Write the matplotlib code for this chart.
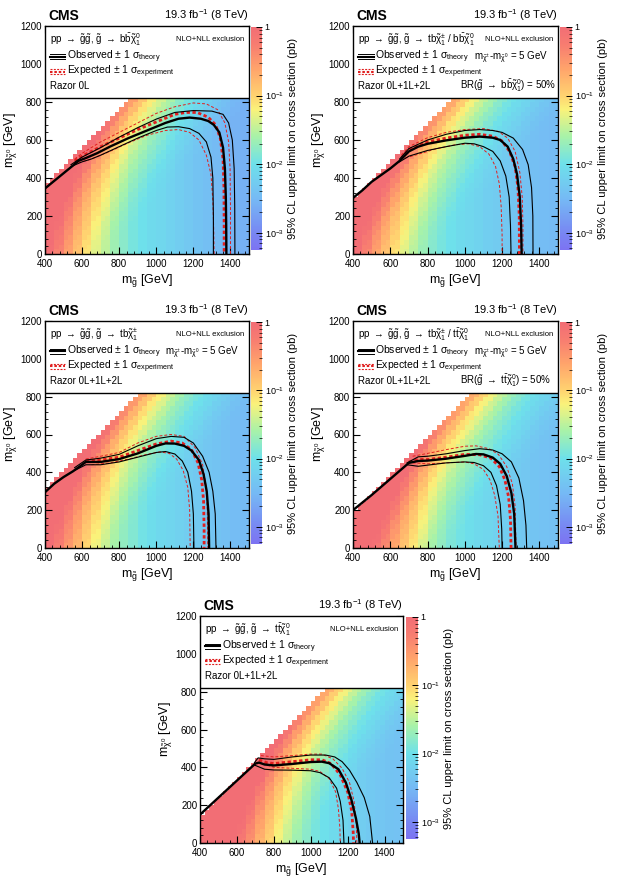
import numpy as np
import matplotlib
matplotlib.use('Agg')
import matplotlib.pyplot as plt
from matplotlib.colors import LinearSegmentedColormap, LogNorm
from matplotlib.patches import Rectangle
from matplotlib.ticker import MultipleLocator

plt.rcParams['font.family'] = ['Liberation Sans', 'DejaVu Sans']
plt.rcParams['mathtext.fontset'] = 'custom'
plt.rcParams['mathtext.rm'] = 'Liberation Sans'
plt.rcParams['mathtext.it'] = 'Liberation Sans'
plt.rcParams['mathtext.bf'] = 'Liberation Sans:bold'

# ---- data ----
mg_steps = [400, 450, 500, 550, 600, 650, 700, 750, 800, 850, 900,
            950, 1000, 1050, 1100, 1150, 1200, 1250, 1300, 1350, 1400, 1450]

# upper limit (pb) at low neutralino mass, one value per 50 GeV of gluino mass
limit_bb = [0.45, 0.3, 0.18, 0.11, 0.07, 0.045, 0.032, 0.022, 0.016, 0.012, 0.01,
            0.0085, 0.0075, 0.0065, 0.0055, 0.0048, 0.0042, 0.0037, 0.0033, 0.003, 0.0027, 0.0025]
limit_tbbb = [0.35, 0.22, 0.14, 0.09, 0.06, 0.04, 0.028, 0.02, 0.015, 0.012, 0.01,
              0.0085, 0.0075, 0.0066, 0.0058, 0.0052, 0.0047, 0.0043, 0.004, 0.0037, 0.0035, 0.0033]
limit_tb = [0.4, 0.28, 0.18, 0.12, 0.075, 0.05, 0.035, 0.025, 0.018, 0.014, 0.011,
            0.0092, 0.008, 0.007, 0.0062, 0.0055, 0.005, 0.0045, 0.0041, 0.0038, 0.0035, 0.0033]
limit_tbtt = [0.5, 0.4, 0.3, 0.2, 0.13, 0.085, 0.055, 0.035, 0.023, 0.017, 0.013,
              0.011, 0.0095, 0.0082, 0.0072, 0.0064, 0.0057, 0.0051, 0.0047, 0.0043, 0.004, 0.0038]
limit_tt = [0.7, 0.6, 0.5, 0.4, 0.3, 0.2, 0.12, 0.075, 0.048, 0.032, 0.022,
            0.016, 0.012, 0.01, 0.0085, 0.0072, 0.0062, 0.0055, 0.005, 0.0046, 0.0042, 0.004]

# limit grows close to the kinematic edge (per 50 GeV away from it)
diag_boost = [22, 13, 8, 5.5, 4.0, 3.0, 2.4, 2.0, 1.7, 1.45, 1.25, 1.12, 1.04, 1.0]
diag_gaps = [40, 110, 95, 210, 255]

# exclusion contours (m_gluino, m_LSP)
bb_obs = [(400, 345), (450, 385), (500, 425), (550, 465), (580, 490), (620, 505), (680, 530), (750, 565),
          (850, 610), (950, 650), (1050, 690), (1120, 712), (1180, 718), (1240, 712), (1280, 700),
          (1310, 680), (1340, 640), (1360, 560), (1370, 450), (1375, 300), (1377, 150), (1378, 0)]
bb_obs_up = [(540, 470), (600, 510), (700, 560), (800, 615), (900, 665), (1000, 710), (1100, 745), (1200, 755),
             (1300, 752), (1360, 735), (1390, 690), (1410, 600), (1420, 450), (1423, 250), (1424, 0)]
bb_obs_dn = [(540, 460), (600, 485), (650, 500), (700, 520), (800, 565), (900, 610), (1000, 650), (1060, 668),
             (1120, 670), (1180, 660), (1230, 635), (1270, 590), (1295, 510), (1305, 400), (1308, 200), (1308, 0)]
bb_exp = [(560, 490), (600, 515), (700, 565), (800, 610), (900, 655), (1000, 695), (1100, 735), (1160, 745),
          (1220, 745), (1280, 720), (1320, 680), (1345, 610), (1360, 500), (1365, 350), (1366, 150), (1366, 0)]
bb_exp_up = [(560, 500), (600, 530), (700, 590), (800, 640), (900, 690), (1000, 740), (1100, 775), (1200, 795),
             (1270, 790), (1330, 760), (1370, 690), (1390, 590), (1398, 450), (1400, 250), (1400, 0)]
bb_exp_dn = [(580, 480), (650, 500), (750, 540), (850, 585), (950, 625), (1050, 650), (1120, 655), (1180, 640),
             (1230, 600), (1270, 520), (1295, 420), (1305, 280), (1310, 120), (1312, 0)]

tbbb_obs = [(400, 295), (450, 335), (500, 380), (550, 415), (600, 450), (650, 490), (700, 540), (750, 565),
            (800, 580), (900, 598), (1000, 612), (1080, 618), (1150, 612), (1190, 600), (1230, 565),
            (1260, 500), (1280, 420), (1295, 300), (1302, 150), (1305, 0)]
tbbb_obs_up = [(650, 500), (700, 555), (800, 600), (900, 630), (1000, 650), (1080, 655), (1150, 650), (1200, 640),
               (1260, 610), (1310, 550), (1340, 470), (1358, 350), (1365, 200), (1366, 0)]
tbbb_obs_dn = [(650, 485), (700, 515), (800, 545), (900, 565), (1000, 583), (1050, 580), (1100, 565), (1150, 540),
               (1190, 490), (1220, 410), (1238, 300), (1245, 150), (1248, 0)]
tbbb_exp = [(660, 505), (700, 550), (800, 590), (900, 610), (1000, 625), (1080, 630), (1150, 620), (1200, 595),
            (1240, 540), (1270, 460), (1285, 350), (1292, 200), (1293, 0)]
tbbb_exp_up = [(660, 520), (700, 565), (800, 612), (900, 640), (1000, 655), (1100, 660), (1180, 645), (1230, 610),
               (1270, 540), (1295, 430), (1308, 300), (1312, 150), (1312, 0)]
tbbb_exp_dn = [(680, 505), (750, 525), (850, 555), (950, 575), (1020, 580), (1080, 565), (1130, 525), (1165, 460),
               (1185, 370), (1195, 250), (1200, 100), (1200, 0)]

tb_obs = [(400, 295), (450, 340), (500, 375), (550, 405), (600, 440), (620, 455), (700, 455), (800, 470),
          (900, 500), (1000, 540), (1050, 553), (1100, 552), (1150, 540), (1190, 515), (1230, 465),
          (1255, 390), (1272, 300), (1282, 180), (1285, 0)]
tb_obs_up = [(560, 425), (620, 465), (700, 475), (800, 495), (900, 540), (1000, 578), (1080, 590), (1150, 585),
             (1200, 555), (1250, 485), (1285, 400), (1305, 300), (1318, 180), (1322, 0)]
tb_obs_dn = [(560, 410), (620, 440), (700, 440), (800, 455), (900, 480), (1000, 505), (1050, 510), (1100, 497),
             (1140, 460), (1170, 400), (1190, 300), (1200, 180), (1203, 0)]
tb_exp = [(620, 460), (700, 465), (800, 480), (900, 515), (1000, 550), (1080, 565), (1140, 555), (1190, 520),
          (1225, 450), (1245, 360), (1255, 250), (1258, 100), (1258, 0)]
tb_exp_up = [(620, 470), (700, 485), (800, 505), (900, 555), (1000, 590), (1080, 600), (1150, 590), (1210, 530),
             (1250, 440), (1268, 330), (1275, 200), (1278, 0)]
tb_exp_dn = [(650, 440), (750, 450), (850, 470), (950, 495), (1020, 508), (1070, 500), (1110, 470), (1145, 410),
             (1170, 320), (1180, 200), (1183, 0)]

tbtt_obs = [(400, 200), (500, 280), (600, 365), (700, 450), (750, 460), (800, 462), (900, 472), (1000, 487),
            (1060, 497), (1100, 495), (1150, 478), (1190, 445), (1225, 380), (1250, 290), (1265, 180), (1272, 0)]
tbtt_obs_up = [(690, 450), (750, 482), (800, 485), (900, 498), (1000, 515), (1080, 525), (1150, 518), (1200, 498),
               (1250, 455), (1290, 370), (1315, 250), (1328, 120), (1332, 0)]
tbtt_obs_dn = [(690, 440), (750, 432), (800, 438), (900, 450), (1000, 455), (1050, 452), (1100, 435), (1140, 400),
               (1170, 330), (1190, 230), (1198, 100), (1200, 0)]
tbtt_exp = [(700, 455), (750, 468), (800, 468), (900, 480), (1000, 495), (1080, 493), (1140, 475), (1185, 430),
            (1215, 360), (1235, 270), (1245, 150), (1248, 0)]
tbtt_exp_up = [(720, 485), (800, 500), (900, 520), (1000, 538), (1060, 540), (1130, 525), (1180, 495), (1225, 430),
               (1255, 340), (1270, 220), (1275, 0)]
tbtt_exp_dn = [(720, 450), (800, 445), (900, 450), (1000, 455), (1050, 445), (1100, 415), (1135, 360), (1160, 280),
               (1178, 170), (1185, 0)]

tt_obs = [(400, 150), (500, 240), (600, 330), (700, 420), (720, 425), (750, 415), (800, 410), (900, 418),
          (1000, 428), (1060, 430), (1100, 422), (1150, 390), (1190, 320), (1220, 230), (1245, 130),
          (1260, 50), (1265, 0)]
tt_obs_up = [(695, 425), (715, 450), (750, 445), (800, 442), (900, 455), (1000, 465), (1080, 465), (1130, 455),
             (1170, 430), (1210, 385), (1250, 320), (1290, 240), (1320, 140), (1335, 0)]
tt_obs_dn = [(695, 412), (750, 390), (800, 386), (900, 385), (1000, 382), (1050, 372), (1100, 345), (1140, 290),
             (1160, 220), (1175, 120), (1180, 0)]
tt_exp = [(720, 440), (760, 425), (800, 420), (900, 430), (1000, 440), (1060, 440), (1110, 420), (1160, 360),
          (1200, 270), (1222, 170), (1230, 60), (1232, 0)]
tt_exp_up = [(730, 462), (800, 455), (900, 462), (1000, 470), (1060, 470), (1120, 445), (1170, 395), (1210, 320),
             (1235, 220), (1247, 100), (1250, 0)]
tt_exp_dn = [(740, 420), (800, 400), (900, 395), (1000, 390), (1050, 378), (1100, 340), (1135, 270), (1150, 180),
             (1158, 80), (1160, 0)]

process_labels = [
    r'pp $\rightarrow$ $\tilde{g}\tilde{g}$, $\tilde{g}$ $\rightarrow$ b$\bar{b}\tilde{\chi}^{0}_{1}$',
    r'pp $\rightarrow$ $\tilde{g}\tilde{g}$, $\tilde{g}$ $\rightarrow$ tb$\tilde{\chi}^{\pm}_{1}$ / b$\bar{b}\tilde{\chi}^{0}_{1}$',
    r'pp $\rightarrow$ $\tilde{g}\tilde{g}$, $\tilde{g}$ $\rightarrow$ tb$\tilde{\chi}^{\pm}_{1}$',
    r'pp $\rightarrow$ $\tilde{g}\tilde{g}$, $\tilde{g}$ $\rightarrow$ tb$\tilde{\chi}^{\pm}_{1}$ / t$\bar{t}\tilde{\chi}^{0}_{1}$',
    r'pp $\rightarrow$ $\tilde{g}\tilde{g}$, $\tilde{g}$ $\rightarrow$ t$\bar{t}\tilde{\chi}^{0}_{1}$',
]
razor_labels = ['Razor 0L', 'Razor 0L+1L+2L', 'Razor 0L+1L+2L', 'Razor 0L+1L+2L', 'Razor 0L+1L+2L']
split_label = r'm$_{\tilde{\chi}^{\pm}}$-m$_{\tilde{\chi}^{0}}$ = 5 GeV'
br_labels = [None, r'BR($\tilde{g}$ $\rightarrow$ b$\bar{b}\tilde{\chi}^{0}_{1}$) = 50%', None,
             r'BR($\tilde{g}$ $\rightarrow$ t$\bar{t}\tilde{\chi}^{0}_{1}$) = 50%', None]
has_split = [False, True, True, True, False]

# ---- colour map, pastel ROOT-like rainbow ----
zmin, zmax = 5.6e-4, 1.0
cmap = LinearSegmentedColormap.from_list('root_pastel', [
    (0.0, (0.49, 0.45, 0.95)),
    (0.077, (0.47, 0.53, 0.95)),
    (0.23, (0.46, 0.73, 0.96)),
    (0.385, (0.43, 0.88, 0.92)),
    (0.51, (0.66, 0.95, 0.66)),
    (0.63, (0.98, 0.95, 0.48)),
    (0.69, (1.0, 0.83, 0.44)),
    (0.815, (1.0, 0.64, 0.42)),
    (0.92, (0.97, 0.49, 0.44)),
    (1.0, (0.95, 0.43, 0.46)),
])
cmap.set_over((0.95, 0.43, 0.46))
cmap.set_bad('white')
norm = LogNorm(vmin=zmin, vmax=zmax)

mg_edges = np.arange(400, 1501, 25)
ml_edges = np.arange(0, 1201, 25)
mg_c = mg_edges[:-1] + 12.5
ml_c = ml_edges[:-1] + 12.5


def limit_grid(limits, gap):
    cols = np.repeat(np.array(limits), 2)
    z = np.ma.masked_all((len(ml_c), len(mg_c)))
    for i, mg in enumerate(mg_c):
        for j, ml in enumerate(ml_c):
            dm = mg - gap - ml
            if dm < 0:
                continue
            k = min(int(dm // 50), len(diag_boost) - 1)
            z[j, i] = cols[i] * diag_boost[k]
    return z


def curve(ax, pts, **kw):
    x, y = zip(*pts)
    ax.plot(x, y, **kw)


def draw_panel(ax, cax, idx, limits, curves):
    z = limit_grid(limits, diag_gaps[idx])
    mesh = ax.pcolormesh(mg_edges, ml_edges, z, cmap=cmap, norm=norm, zorder=1)

    obs, obs_up, obs_dn, exp, exp_up, exp_dn = curves
    red = (0.88, 0.12, 0.12)
    curve(ax, exp_up, color=red, lw=0.7, ls=(0, (3, 2)), zorder=3)
    curve(ax, exp_dn, color=red, lw=0.7, ls=(0, (3, 2)), zorder=3)
    curve(ax, exp, color=red, lw=2.0, ls=(0, (1.2, 0.9)), zorder=3)
    curve(ax, obs_up, color='black', lw=0.8, zorder=4)
    curve(ax, obs_dn, color='black', lw=0.8, zorder=4)
    curve(ax, obs, color='black', lw=1.7, zorder=4)

    ax.set_xlim(400, 1500)
    ax.set_ylim(0, 1200)
    ax.set_xticks([400, 600, 800, 1000, 1200, 1400])
    ax.set_yticks([0, 200, 400, 600, 800, 1000, 1200])
    ax.xaxis.set_minor_locator(MultipleLocator(40))
    ax.yaxis.set_minor_locator(MultipleLocator(40))
    ax.tick_params(which='both', direction='in', top=True, right=True, labelsize=7)
    ax.tick_params(axis='x', pad=3.5)
    ax.tick_params(axis='y', pad=2)
    ax.tick_params(which='major', length=5, width=0.8)
    ax.tick_params(which='minor', length=2.5, width=0.6)
    for s in ax.spines.values():
        s.set_linewidth(1.0)
    ax.set_xlabel(r'm$_{\tilde{g}}$ [GeV]', fontsize=9, labelpad=2)
    ax.set_ylabel(r'm$_{\tilde{\chi}^{0}}$ [GeV]', fontsize=9, labelpad=1)

    # legend box
    ax.add_patch(Rectangle((0, 0.684), 1, 0.316, transform=ax.transAxes, facecolor='white',
                           edgecolor='black', lw=1.0, zorder=5))
    tr = ax.transAxes
    ax.text(0.025, 0.94, process_labels[idx], transform=tr, fontsize=7, va='center', zorder=6)
    ax.text(0.975, 0.94, 'NLO+NLL exclusion', transform=tr, fontsize=5.5, ha='right', va='center', zorder=6)
    for yl, col, style in [(0.866, 'black', 'obs'), (0.8, red, 'exp')]:
        for off in (-0.01, 0.0, 0.01):
            if style == 'obs':
                lw = 1.5 if off == 0 else 0.7
                ax.plot([0.025, 0.1], [yl + off] * 2, transform=tr, color=col, lw=lw, zorder=6, clip_on=False)
            else:
                lw = 1.5 if off == 0 else 0.8
                ls = (0, (1.2, 0.9)) if off == 0 else (0, (1.8, 1.2))
                ax.plot([0.025, 0.1], [yl + off] * 2, transform=tr, color=col, lw=lw, ls=ls, zorder=6, clip_on=False)
    ax.text(0.107, 0.866, r'Observed $\pm$ 1 $\sigma_{\mathrm{theory}}$', transform=tr, fontsize=7.5,
            va='center', zorder=6)
    ax.text(0.107, 0.8, r'Expected $\pm$ 1 $\sigma_{\mathrm{experiment}}$', transform=tr, fontsize=7.5,
            va='center', zorder=6)
    ax.text(0.025, 0.737, razor_labels[idx], transform=tr, fontsize=7, va='center', zorder=6)
    if has_split[idx]:
        ax.text(0.59, 0.862, split_label, transform=tr, fontsize=7, va='center', zorder=6)
    if br_labels[idx]:
        ax.text(0.52, 0.737, br_labels[idx], transform=tr, fontsize=7, va='center', zorder=6)

    ax.text(0.015, 1.015, 'CMS', transform=tr, fontsize=10, fontweight='bold', va='bottom')
    ax.text(1.0, 1.015, r'19.3 fb$^{-1}$ (8 TeV)', transform=tr, fontsize=8, ha='right', va='bottom')

    cb = plt.colorbar(mesh, cax=cax)
    cb.outline.set_visible(False)
    cb.set_ticks([1e-3, 1e-2, 1e-1, 1.0])
    cb.set_ticklabels([r'10$^{-3}$', r'10$^{-2}$', r'10$^{-1}$', '1'])
    cax.tick_params(which='both', direction='in', labelsize=6.5, pad=2)
    cax.tick_params(which='major', length=4, width=0.7)
    cax.tick_params(which='minor', length=2, width=0.5)
    cb.set_label('95% CL upper limit on cross section (pb)', fontsize=8, labelpad=3)


W, H = 618, 883
fig = plt.figure(figsize=(W / 100, H / 100), dpi=100)


def ax_rect(x0, y0, x1, y1):
    return [x0 / W, 1 - y1 / H, (x1 - x0) / W, (y1 - y0) / H]


panels = [
    (45, 26, 249, 254, 251, 262, limit_bb, (bb_obs, bb_obs_up, bb_obs_dn, bb_exp, bb_exp_up, bb_exp_dn)),
    (353, 26, 558, 254, 560, 572, limit_tbbb,
     (tbbb_obs, tbbb_obs_up, tbbb_obs_dn, tbbb_exp, tbbb_exp_up, tbbb_exp_dn)),
    (45, 321, 249, 548, 251, 262, limit_tb, (tb_obs, tb_obs_up, tb_obs_dn, tb_exp, tb_exp_up, tb_exp_dn)),
    (353, 321, 558, 548, 560, 572, limit_tbtt,
     (tbtt_obs, tbtt_obs_up, tbtt_obs_dn, tbtt_exp, tbtt_exp_up, tbtt_exp_dn)),
    (200, 616, 403, 843, 406, 418, limit_tt, (tt_obs, tt_obs_up, tt_obs_dn, tt_exp, tt_exp_up, tt_exp_dn)),
]

for n, (x0, y0, x1, y1, c0, c1, lims, crvs) in enumerate(panels):
    ax = fig.add_axes(ax_rect(x0, y0, x1, y1))
    cax = fig.add_axes(ax_rect(c0, y0 + 1, c1, y1 - 4))
    draw_panel(ax, cax, n, lims, crvs)

fig.savefig('out.png', dpi=100)
